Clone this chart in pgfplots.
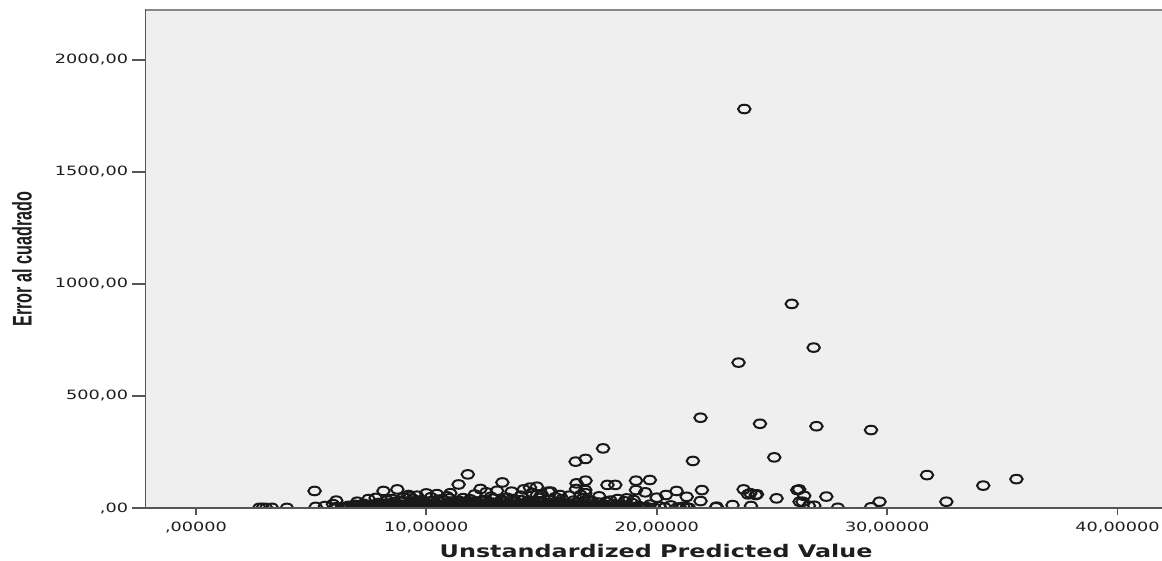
\documentclass[border=0pt]{standalone}
\usepackage{graphicx}
\usepackage{fontspec}
\usepackage{pgfplots}
\pgfplotsset{compat=1.18}
\newfontfamily\dejavu{DejaVu Sans}
\newfontfamily\libsans{Liberation Sans}
\definecolor{bg}{RGB}{239,239,239}
\definecolor{axisgray}{RGB}{85,85,85}
\definecolor{topgray}{RGB}{135,135,135}
\definecolor{txt}{RGB}{30,30,30}
% wide tick labels
\newcommand{\tl}[1]{\scalebox{1.38}[1]{#1}}
\begin{document}
\begin{tikzpicture}[x=1pt,y=1pt]
\useasboundingbox (0,0) rectangle (1162,560);
\begin{axis}[
  at={(145pt,52pt)}, anchor=south west,
  width=1017pt, height=498pt, scale only axis,
  xmin=-2.21, xmax=41.93, ymin=0, ymax=2223,
  axis background/.style={fill=bg},
  axis line style={draw=none},
  tick pos=left, tick align=outside,
  xtick={0,10,20,30,40},
  ytick={0,500,1000,1500,2000},
  xticklabels={{\tl{,00000}},{\tl{10,00000}},{\tl{20,00000}},{\tl{30,00000}},{\tl{40,00000}}},
  yticklabels={{\tl{,00}},{\tl{500,00}},{\tl{1000,00}},{\tl{1500,00}},{\tl{2000,00}}},
  xtick style={draw=axisgray, line width=1.8pt, /pgfplots/major tick length=7pt},
  ytick style={draw=axisgray, line width=1.8pt, /pgfplots/major tick length=13pt},
  ticklabel style={font=\fontsize{12.8}{12.8}\selectfont\dejavu, text=txt},
  xticklabel style={inner sep=0pt, yshift=-10pt},
  yticklabel style={inner sep=0pt, xshift=-12.5pt},
  xlabel={\scalebox{1.37}[1]{\fontsize{17.4}{17.4}\selectfont\dejavu\bfseries Unstandardized Predicted Value}},
  ylabel={\scalebox{0.6}[1]{\fontsize{27}{27}\selectfont\libsans\bfseries Error al cuadrado}},
  every axis x label/.style={at={(axis description cs:0.5025,-0.0984)}, anchor=base, text=txt, inner sep=0pt},
  every axis y label/.style={at={(axis description cs:-0.121,0.5)}, rotate=90, anchor=center, text=txt, inner sep=0pt},
  clip=true, clip marker paths=true,
]
% squared residuals against predicted values
\addplot[only marks, mark=o, mark size=4.3pt,
  mark options={xscale=1.45, line width=2pt, draw=black!90}]
coordinates {
% low end of the prediction range
(2.75,0.5) (2.9,0.8) (3.05,0.3) (3.3,0.6) (3.95,0.4)
(5.15,76) (5.2,5) (5.6,9) (5.95,17) (6.05,3) (6.09,33)
(7.49,40) (8.14,76) (8.74,83) (9.23,58) (9.3,50)
(10.46,62) (11.04,66) (11.4,105) (11.8,150) (12.35,85)
(13.3,114) (13.07,77) (13.7,73) (14.23,83) (14.5,91) (14.8,95) (14.8,58) (15.3,73)
(15.4,73) (15.8,58) (16.7,58) (16.9,80)
% ragged top of the main cloud
(7.0,28) (7.8,45) (8.5,40) (9.6,55) (10.2,48) (10.9,52) (11.6,44) (12.1,60)
(12.8,50) (13.5,46) (14.1,55) (15.0,62) (15.6,48) (16.2,55) (16.9,66)
(17.5,52) (18.3,40) (19.0,35)
(8.3,34) (8.9,27) (9.4,41) (9.9,30) (10.5,37) (11.0,43) (11.3,29) (11.9,39)
(12.4,32) (12.9,42) (13.3,35) (13.8,40) (14.4,31) (14.9,45) (15.3,36) (15.9,40)
(16.4,33) (16.8,44) (17.8,28) (18.6,30) (10.0,65) (12.6,70) (14.6,68) (9.0,47)
% main cloud
(7.52,3.1) (7.60,10.8) (7.71,1.2) (7.77,16.5) (7.85,5.9) (7.93,22.4) (8.01,2.2) (8.07,8.7)
(8.16,13.6) (8.21,0.6) (8.33,19.2) (8.39,4.8) (8.45,12.3) (8.57,1.4) (8.61,26.9) (8.72,7.6)
(8.79,3.9) (8.85,15.8) (8.97,2.6) (9.03,9.7) (9.09,3.3) (9.20,11.4) (9.27,0.9) (9.33,18.1)
(9.44,6.2) (9.49,25.3) (9.59,1.8) (9.68,8.9) (9.73,13.9) (9.84,0.4) (9.88,21.0) (9.99,5.3)
(10.07,12.6) (10.12,1.6) (10.24,29.4) (10.31,7.9) (10.37,4.2) (10.48,16.3) (10.53,2.4) (10.64,10.2)
(10.69,3.0) (10.80,11.7) (10.85,1.1) (10.96,17.2) (11.01,6.4) (11.12,23.8) (11.17,2.1) (11.28,9.3)
(11.33,14.4) (11.44,0.7) (11.49,20.6) (11.60,5.1) (11.65,12.0) (11.76,1.3) (11.81,30.5) (11.92,8.2)
(11.97,4.4) (12.08,15.6) (12.13,2.7) (12.24,10.5) (12.29,3.4) (12.40,11.1) (12.45,0.8) (12.56,17.8)
(12.61,6.0) (12.72,24.9) (12.77,1.9) (12.88,9.0) (12.93,14.7) (13.04,0.5) (13.09,19.8) (13.20,5.6)
(13.25,12.9) (13.36,1.7) (13.41,27.6) (13.52,8.4) (13.57,3.7) (13.68,16.0) (13.73,2.3) (13.84,10.0)
(13.89,3.2) (14.00,11.9) (14.05,1.0) (14.16,17.5) (14.21,5.8) (14.32,23.1) (14.37,2.0) (14.48,9.5)
(14.53,13.4) (14.64,0.6) (14.69,20.3) (14.80,4.9) (14.85,12.2) (14.96,1.5) (15.01,26.2) (15.12,7.7)
(15.17,4.1) (15.28,15.4) (15.33,2.8) (15.44,9.8) (15.49,3.5) (15.60,10.6) (15.65,1.2) (15.76,16.8)
(15.81,6.3) (15.92,22.0) (15.97,2.2) (16.08,8.6) (16.13,13.1) (16.24,0.9) (16.29,18.7) (16.40,5.2)
(16.45,11.5) (16.56,1.4) (16.61,25.7) (16.72,7.4) (16.77,3.8) (16.88,14.9) (16.93,2.5)
(8.04,6.7) (8.12,18.3) (8.20,2.9) (8.28,11.6) (8.36,0.8) (8.44,7.2) (8.52,21.5) (8.60,4.5)
(8.68,13.2) (8.76,1.9) (8.84,9.6) (8.92,32.4) (9.00,5.5) (9.08,15.1) (9.16,0.3) (9.24,8.1)
(9.32,26.4) (9.40,3.6) (9.48,12.8) (9.56,2.0) (9.64,19.9) (9.72,6.6) (9.80,35.2) (9.88,1.3)
(9.96,10.9) (10.04,4.0) (10.12,17.0) (10.20,7.3) (10.28,2.6) (10.36,22.7) (10.44,9.4) (10.52,0.7)
(10.60,14.2) (10.68,38.5) (10.76,5.0) (10.84,11.3) (10.92,1.8) (11.00,26.8) (11.08,8.3) (11.16,3.1)
(11.24,18.9) (11.32,6.9) (11.40,33.0) (11.48,1.0) (11.56,13.8) (11.64,4.7) (11.72,21.2) (11.80,9.9)
(11.88,2.4) (11.96,16.6) (12.04,0.9) (12.12,29.8) (12.20,7.1) (12.28,12.4) (12.36,3.9) (12.44,19.4)
(12.52,5.7) (12.60,36.1) (12.68,1.6) (12.76,10.4) (12.84,4.6) (12.92,23.5) (13.00,8.8) (13.08,2.1)
(13.16,15.2) (13.24,31.7) (13.32,6.5) (13.40,0.4) (13.48,12.1) (13.56,20.8) (13.64,3.3) (13.72,9.2)
(13.80,27.3) (13.88,1.5) (13.96,14.0) (14.04,5.4) (14.12,34.6) (14.20,2.7) (14.28,11.0) (14.36,18.4)
(14.44,7.0) (14.52,0.8) (14.60,24.2) (14.68,4.3) (14.76,13.5) (14.84,2.2) (14.92,30.1) (15.00,8.5)
(15.08,1.1) (15.16,17.3) (15.24,5.9) (15.32,22.9) (15.40,3.0) (15.48,12.7) (15.56,0.6) (15.64,19.6)
(15.72,6.8) (15.80,28.5) (15.88,2.4) (15.96,10.1)
(6.55,2.4) (6.66,7.1) (6.74,0.8) (6.83,4.6) (6.93,11.2) (7.05,2.9) (7.14,0.5) (7.22,5.8)
(7.33,9.9) (7.41,1.7) (7.48,13.5) (7.57,3.6) (7.66,6.9) (7.74,0.4) (7.83,10.3) (7.91,4.1)
(7.99,1.5) (8.09,12.7) (8.18,5.2) (8.26,0.9) (8.35,8.4) (8.43,2.8) (8.51,14.6) (8.59,6.1)
(8.67,1.0) (8.75,9.7) (8.83,3.5) (8.91,0.6) (8.99,11.8) (9.07,4.9) (9.15,7.8) (9.23,1.2)
(9.31,13.0) (9.39,2.2) (9.47,6.4) (9.55,10.6) (9.63,0.7) (9.71,4.4) (9.79,12.1) (9.87,3.0)
(9.95,7.5) (10.03,1.4) (10.11,14.9) (10.19,5.5) (10.27,0.3) (10.35,9.0) (10.43,3.2) (10.51,12.4)
(10.59,6.0) (10.67,1.1) (10.75,8.6) (10.83,2.5) (10.91,13.8) (10.99,4.7) (11.07,0.5) (11.15,10.8)
(11.23,3.8) (11.31,7.2) (11.39,1.9) (11.47,14.2) (11.55,5.3) (11.63,0.8) (11.71,9.4) (11.79,2.6)
(11.87,12.9) (11.95,6.7) (12.03,1.3) (12.11,8.2) (12.19,3.4) (12.27,15.1) (12.35,4.8) (12.43,0.6)
(12.51,10.0) (12.59,2.0) (12.67,7.0) (12.75,13.3) (12.83,1.6) (12.91,5.7) (12.99,11.5) (13.07,3.6)
(13.15,0.4) (13.23,8.9) (13.31,2.3) (13.39,14.0) (13.47,6.3) (13.55,1.0) (13.63,9.8) (13.71,3.1)
(13.79,12.6) (13.87,5.0) (13.95,0.7) (14.03,8.0) (14.11,2.9) (14.19,13.7) (14.27,4.5) (14.35,1.4)
(14.43,10.4) (14.51,6.6) (14.59,0.9) (14.67,7.7) (14.75,3.3) (14.83,11.9) (14.91,5.1) (14.99,1.8)
(15.07,9.2) (15.15,2.4) (15.23,12.3) (15.31,6.0) (15.39,0.5) (15.47,8.3) (15.55,3.9) (15.63,10.9)
(15.71,1.2) (15.79,5.6) (15.87,13.1) (15.95,2.7) (16.03,7.4) (16.11,0.8) (16.19,10.2) (16.27,4.0)
(16.35,1.7) (16.43,8.8) (16.51,3.0) (16.59,12.0) (16.67,5.4) (16.75,0.6) (16.83,9.5) (16.91,2.1)
(16.99,6.5) (17.07,11.3) (17.15,1.5) (17.23,4.3) (17.31,8.1) (17.41,0.9) (17.50,5.9) (17.60,2.6)
(17.70,9.3) (17.80,1.3) (17.92,4.9) (18.03,0.6) (18.14,7.0) (18.25,2.2) (18.37,10.1) (18.48,1.4)
(18.60,4.2) (18.72,0.8) (18.85,6.8) (18.98,2.0) (19.12,1.0) (19.30,4.4) (19.46,0.7)
% edges of the main cloud
(6.12,1.4) (6.35,4.8) (6.48,0.6) (6.62,9.5) (6.77,2.1) (6.89,14.3) (6.97,0.9) (7.08,6.7)
(7.19,3.2) (7.27,18.6) (7.36,1.0) (7.44,8.4) (7.02,0.3) (7.31,12.0)
(17.01,6.1) (17.09,19.7) (17.18,1.3) (17.27,10.2) (17.35,3.6) (17.46,24.4) (17.55,0.8) (17.63,7.5)
(17.74,14.1) (17.86,2.0) (17.95,5.3) (18.07,17.6) (18.16,1.1) (18.28,8.0) (18.39,3.4) (18.52,12.5)
(18.66,0.7) (18.78,6.2) (18.93,21.8) (19.05,2.6) (19.22,9.1) (19.38,1.2) (19.55,4.5) (19.71,15.0)
(19.90,0.9) (20.12,7.2) (20.35,2.3) (20.61,11.4) (20.88,1.0) (21.15,5.6) (21.40,0.5)
(17.20,30.5) (18.00,33.2) (16.98,38.0)
% middle range
(16.48,207) (16.91,219) (17.67,266) (21.57,210) (25.1,226)
(16.52,110) (16.91,122) (17.86,103) (18.2,103) (19.1,122) (19.7,125)
(16.5,85) (19.5,70) (19.1,80) (20.86,76) (21.96,80) (20.4,58) (21.3,50) (21.9,31)
(20.0,46) (18.7,43) (23.77,83) (24.06,66) (24.35,61) (25.2,43) (26.1,80) (26.2,28)
(22.57,3) (23.29,13) (24.09,9) (21.3,3) (21.0,3)
% upper end of the prediction range
(21.9,403) (24.48,376) (26.93,365) (29.3,348) (31.73,147) (34.17,100) (35.61,129)
(32.57,28) (29.67,28) (29.3,3) (27.86,1) (27.36,51) (26.84,10) (26.6,10) (26.4,54)
(26.18,83) (26.33,28) (23.96,61) (24.3,58) (22.6,6)
% largest squared errors
(23.8,1781) (25.86,911) (26.81,716) (23.55,649)
};
% frame: left and bottom axis lines, lighter top edge
\draw[topgray, line width=2.2pt] (rel axis cs:0,1) -- (rel axis cs:1,1);
\draw[axisgray, line width=2pt] (rel axis cs:0,0) -- (rel axis cs:1,0);
\draw[axisgray, line width=2pt] (rel axis cs:0,-0.002) -- (rel axis cs:0,1.002);
\end{axis}
\end{tikzpicture}
\end{document}
